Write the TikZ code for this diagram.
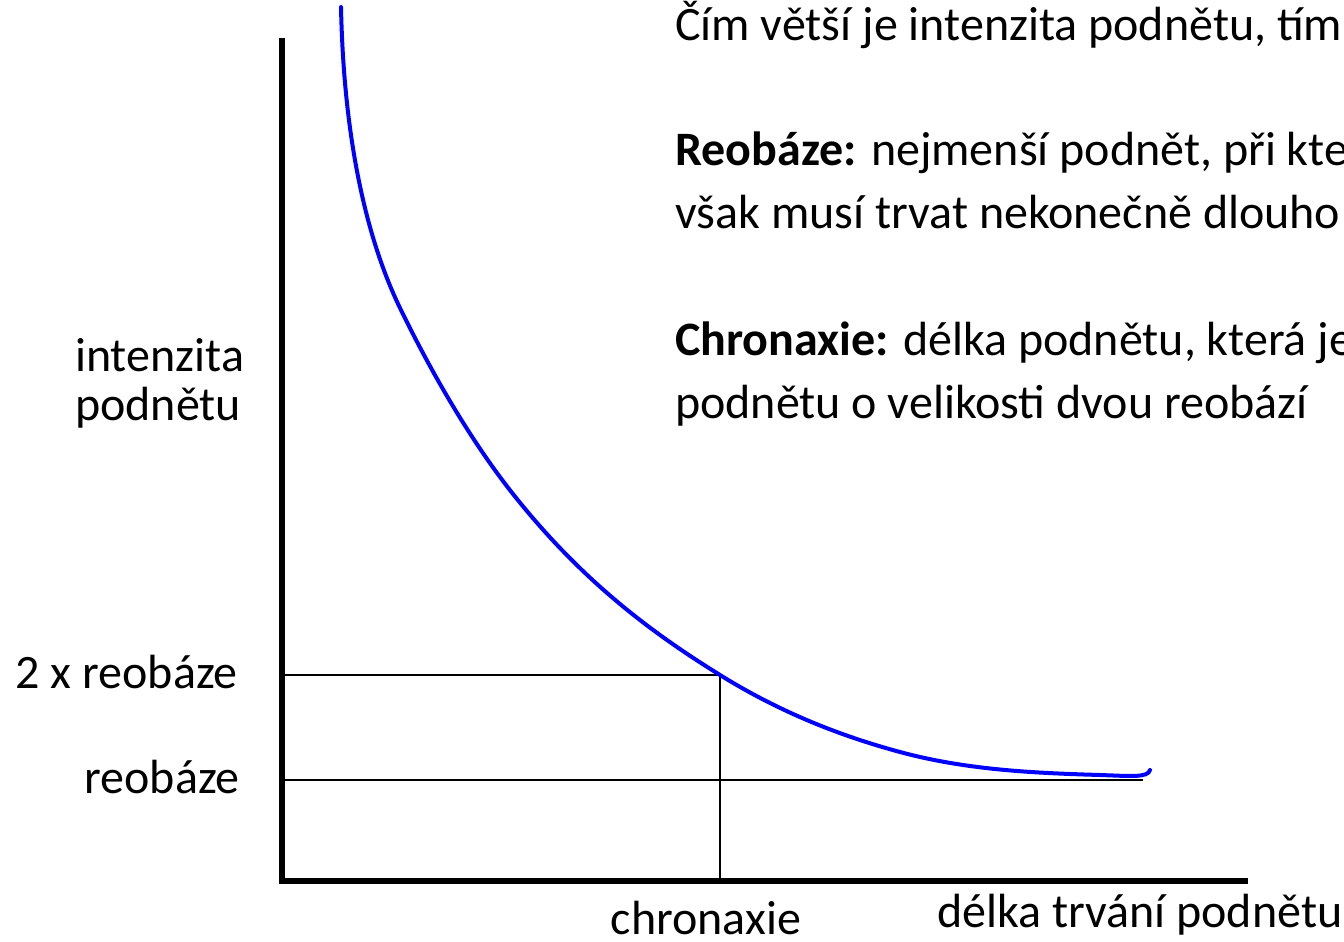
\documentclass[tikz,border=0pt]{standalone}
\usepackage{fontspec}
\setmainfont{Carlito}
\usetikzlibrary{positioning}

\tikzset{
  axis/.style={line width=6pt},
  guide/.style={line width=2pt},
  curve/.style={blue,line width=4pt,line cap=round},
  label/.style={font=\fontsize{48}{49}\selectfont,inner sep=0pt},
  note/.style={font=\fontsize{48}{63}\selectfont,inner sep=0pt,align=left},
}

\begin{document}
\begin{tikzpicture}[x=1pt,y=-1pt]
  \useasboundingbox (0,0) rectangle (1344,942);
  % axes
  \coordinate (top) at (282,38);
  \coordinate (origin) at (282,881);
  \coordinate (xend) at (1248,881);
  \draw[axis] (top) -- (origin) -- (xend);
  % reobaze and chronaxie
  \coordinate (rb) at (285,780);
  \coordinate (rbend) at (1143,780);
  \coordinate (rb2) at (285,675);
  \coordinate (chx) at (720,675);
  \coordinate (chxfoot) at (720,881);
  \draw[guide] (rb) -- (rbend);
  \draw[guide] (rb2) -- (chx) -- (chxfoot);
  % strength-duration curve
  \draw[curve] (341,7)
    .. controls (344,150) and (370,246) .. (400,308)
    .. controls (436,382) and (475.3,446.5) .. (513,494)
    .. controls (582,581) and (651,632.2) .. (chx)
    .. controls (780,712.2) and (840,735.8) .. (900,752)
    .. controls (966.7,770) and (1033.3,773) .. (1100,775)
    .. controls (1130,776) and (1148,778) .. (1150,770);
  % labels
  \node[label,anchor=base west,align=left] (ylab) at (75,420) {intenzita\\podnětu};
  \node[label,anchor=base east] (l2rb) at (238,688) {2 x reobáze};
  \node[label,anchor=base east] (lrb) at (240,793) {reobáze};
  \node[label,anchor=base] (lchx) at (706,934) {chronaxie};
  \node[label,anchor=base west] (xlab) at (937,927) {délka trvání podnětu};
  % notes
  \node[note,anchor=base west] (n1) at (675,41) {Čím větší je intenzita podnětu, tím kratší};
  \node[note,anchor=base west] (n2) at (675,228)
    {\textbf{Reobáze:} nejmenší podnět, při kterém vzniká\\však musí trvat nekonečně dlouho};
  \node[note,anchor=base west] (n3) at (675,418)
    {\textbf{Chronaxie:} délka podnětu, která je potřebná\\podnětu o velikosti dvou reobází};
\end{tikzpicture}
\end{document}
